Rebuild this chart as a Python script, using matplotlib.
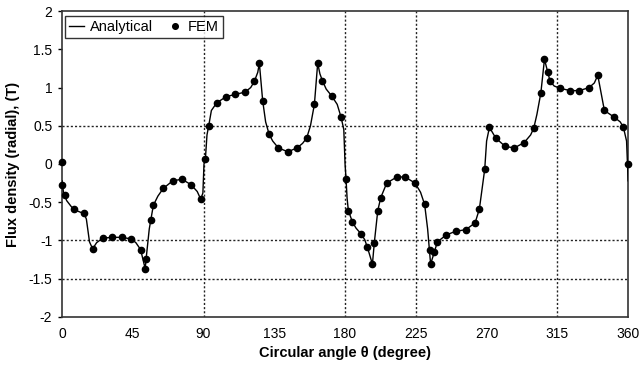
import numpy as np
import matplotlib.pyplot as plt

plt.rcParams['font.family'] = ['Liberation Sans', 'DejaVu Sans']

# FEM results: circular angle (deg) and radial flux density (T)
fem_angle = [0, 0.3, 2, 7.8, 14.2, 19.5, 25.9, 32.0, 38.0, 43.9, 50.0, 52.9, 53.4,
             56.5, 58.1, 64.4, 70.4, 76.3, 82.0, 88.2, 91.2, 93.3, 98.4, 104.3,
             110.0, 116.4, 122.3, 125.5, 127.6, 131.7, 137.6, 143.6, 149.5, 155.6,
             160.5, 162.6, 165.6, 171.5, 177.5, 180.6, 182.1, 184.7, 190.0, 194.2,
             197.4, 198.6, 200.8, 202.7, 206.5, 212.9, 218.2, 224.5, 230.6, 234.1,
             234.7, 236.8, 238.7, 244.2, 250.4, 256.8, 262.7, 265.4, 268.8, 271.8,
             275.8, 281.8, 287.6, 293.9, 300.0, 304.5, 306.8, 308.9, 310.4, 316.8,
             323.1, 329.0, 335.2, 340.7, 344.9, 351.3, 357.0, 360.0]
fem_flux = [0.02, -0.27, -0.40, -0.59, -0.64, -1.11, -0.97, -0.96, -0.96, -0.98,
            -1.12, -1.37, -1.24, -0.73, -0.54, -0.32, -0.22, -0.20, -0.27, -0.46,
            0.07, 0.50, 0.80, 0.88, 0.91, 0.94, 1.08, 1.32, 0.83, 0.39, 0.21, 0.16,
            0.21, 0.34, 0.78, 1.32, 1.09, 0.89, 0.61, -0.19, -0.61, -0.76, -0.91,
            -1.09, -1.31, -1.03, -0.61, -0.44, -0.25, -0.17, -0.17, -0.25, -0.53,
            -1.13, -1.31, -1.15, -1.02, -0.93, -0.88, -0.86, -0.77, -0.59, -0.07,
            0.48, 0.34, 0.23, 0.21, 0.28, 0.47, 0.93, 1.37, 1.20, 1.08, 0.99, 0.96,
            0.96, 1.00, 1.16, 0.70, 0.61, 0.48, 0.00]

# analytical solution
ana_angle = [0, 1, 3, 6, 8, 14, 15.5, 17.5, 19.5, 22, 25.9, 32, 38, 43.9, 47, 50,
             52.9, 53.6, 55.5, 58.1, 61, 64.4, 70.4, 76.3, 82, 86, 88.2, 89.6, 90.3,
             91.2, 92.2, 93.3, 95, 98.4, 104.3, 110, 116.4, 120, 122.3, 124.5, 125.5,
             127.6, 129.5, 131.7, 134, 137.6, 143.6, 149.5, 153, 155.6, 158, 160.5,
             162.6, 164, 165.6, 168, 171.5, 175, 177.5, 179.2, 180, 180.6, 181.3,
             182.1, 184.7, 187, 190, 192.5, 194.2, 197.4, 198.6, 200.8, 202.7, 206.5,
             212.9, 218.2, 224.5, 228, 230.6, 232.5, 234.4, 236.8, 238.7, 244.2,
             250.4, 256.8, 262.7, 265.4, 268.8, 270, 271.8, 275.8, 281.8, 287.6,
             293.9, 298, 300, 302, 304.5, 306.8, 308.9, 310.4, 313, 316.8, 323.1,
             329, 335.2, 338.5, 340.7, 344.9, 351.3, 355, 357, 359, 360]
ana_flux = [-0.22, -0.38, -0.48, -0.56, -0.60, -0.65, -0.72, -1.02, -1.11, -1.03,
            -0.97, -0.96, -0.96, -0.98, -1.03, -1.12, -1.37, -1.22, -0.85, -0.54,
            -0.42, -0.32, -0.22, -0.20, -0.27, -0.36, -0.46, -0.38, 0.0, 0.07, 0.38,
            0.50, 0.70, 0.80, 0.88, 0.91, 0.94, 1.00, 1.08, 1.20, 1.32, 0.83, 0.55,
            0.39, 0.30, 0.21, 0.16, 0.21, 0.27, 0.34, 0.50, 0.78, 1.32, 1.18, 1.09,
            0.98, 0.89, 0.78, 0.61, 0.45, 0.0, -0.19, -0.45, -0.61, -0.76, -0.84,
            -0.91, -0.99, -1.09, -1.31, -1.03, -0.61, -0.44, -0.25, -0.17, -0.17,
            -0.25, -0.37, -0.53, -0.85, -1.31, -1.15, -1.02, -0.93, -0.88, -0.86,
            -0.77, -0.59, -0.07, 0.30, 0.48, 0.34, 0.23, 0.21, 0.28, 0.38, 0.47,
            0.65, 0.93, 1.37, 1.20, 1.08, 1.02, 0.99, 0.96, 0.96, 1.00, 1.06, 1.16,
            0.70, 0.61, 0.55, 0.48, 0.30, -0.22]

fig = plt.figure(figsize=(6.39, 3.71), dpi=100)
ax = fig.add_axes([0.097, 0.146, 0.886, 0.824])

# dotted grid lines
for gx in [90, 180, 225, 315]:
    ax.axvline(gx, color='#222222', lw=1, ls=(0, (1.5, 1.5)), zorder=1)
for gy in [0.5, -1, -1.5]:
    ax.axhline(gy, color='#222222', lw=1, ls=(0, (1.5, 1.5)), zorder=1)

ax.plot(ana_angle, ana_flux, color='black', lw=1, label='Analytical', zorder=3)
ax.plot(fem_angle, fem_flux, ls='none', marker='o', ms=4.5, color='black',
        label='FEM', zorder=4, clip_on=False)

ax.set_xlim(0, 360)
ax.set_ylim(-2, 2)
ax.set_xticks(np.arange(0, 361, 45))
ax.set_yticks(np.arange(-2, 2.01, 0.5))
ax.set_yticklabels(['-2', '-1.5', '-1', '-0.5', '0', '0.5', '1', '1.5', '2'])
ax.tick_params(axis='y', direction='out', length=3, width=1, labelsize=10, pad=4)
ax.tick_params(axis='x', length=0, labelsize=10, pad=7)
for sp in ax.spines.values():
    sp.set_color('#333333')
    sp.set_linewidth(1.2)

ax.set_xlabel('Circular angle θ (degree)', fontsize=10.5, fontweight='bold',
              labelpad=4)
ax.set_ylabel('Flux density (radial), (T)', fontsize=10.5, fontweight='bold',
              labelpad=6)

leg = ax.legend(loc='upper left', ncol=2, bbox_to_anchor=(0.005, 0.985),
                fontsize=10.5, frameon=True, fancybox=False, shadow=False,
                handlelength=1.0, handletextpad=0.4, columnspacing=1.0,
                borderpad=0.3, borderaxespad=0.0, markerscale=0.9)
leg.get_frame().set_edgecolor('black')
leg.get_frame().set_linewidth(1)

fig.savefig('out.png', dpi=100)
